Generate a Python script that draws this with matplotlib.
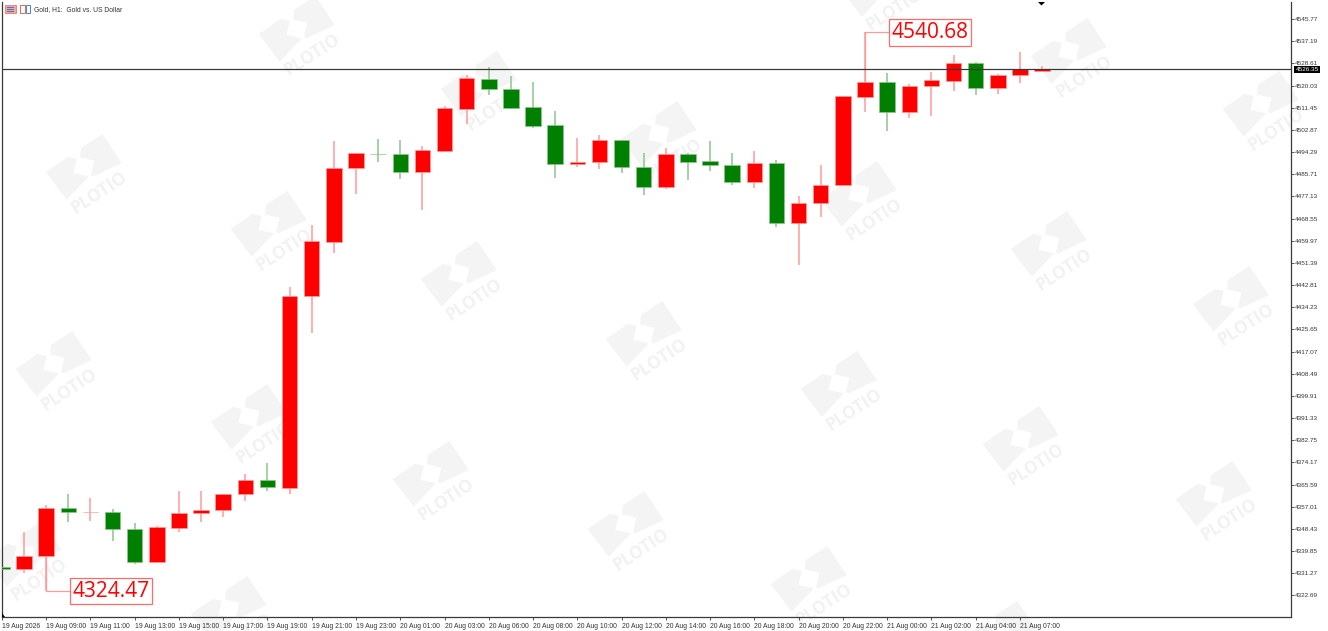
import matplotlib
matplotlib.use("Agg")
import matplotlib.pyplot as plt
from matplotlib.patches import Polygon, Rectangle
from matplotlib.transforms import Affine2D

# Gold H1 candles
opens = [4333.81, 4332.80, 4337.95, 4356.64, 4354.98, 4354.98, 4348.51, 4335.51, 4348.90, 4354.59,
         4355.63, 4361.83, 4367.36, 4364.38, 4438.57, 4459.47, 4487.99, 4493.64, 4493.41, 4486.56,
         4494.80, 4510.82, 4522.55, 4518.79, 4511.59, 4504.63, 4489.54, 4490.54, 4498.82, 4488.61,
         4480.87, 4493.64, 4490.70, 4489.38, 4482.57, 4490.16, 4466.70, 4474.44, 4481.52, 4515.70,
         4521.50, 4509.89, 4519.72, 4521.89, 4528.74, 4518.95, 4524.09, 4525.76]
highs = [4333.81, 4347.24, 4357.57, 4361.94, 4360.39, 4356.25, 4350.60, 4349.56, 4362.99, 4363.22,
         4361.94, 4369.57, 4373.94, 4442.05, 4466.04, 4498.55, 4493.90, 4499.33, 4499.06, 4496.62,
         4512.10, 4524.21, 4527.07, 4523.71, 4521.27, 4510.05, 4499.60, 4500.87, 4499.00, 4493.91,
         4495.73, 4493.80, 4498.55, 4493.91, 4494.68, 4491.20, 4477.15, 4489.15, 4516.10, 4540.68,
         4524.75, 4520.50, 4525.26, 4531.95, 4529.13, 4524.48, 4532.88, 4527.58]
lows = [4332.80, 4331.49, 4324.47, 4351.22, 4351.61, 4343.87, 4334.97, 4335.40, 4347.35, 4351.11,
        4353.16, 4359.35, 4363.10, 4362.06, 4424.25, 4455.21, 4478.04, 4490.31, 4483.96, 4471.85,
        4494.41, 4505.13, 4516.35, 4511.05, 4503.70, 4484.12, 4488.49, 4487.83, 4486.05, 4477.65,
        4479.86, 4483.34, 4486.83, 4481.52, 4480.48, 4465.15, 4450.45, 4469.14, 4481.40, 4509.89,
        4502.54, 4507.45, 4508.34, 4518.02, 4516.47, 4516.74, 4520.88, 4525.70]
closes = [4332.80, 4338.06, 4356.64, 4354.86, 4355.10, 4348.40, 4335.51, 4349.05, 4354.71, 4355.75,
          4361.94, 4367.36, 4364.53, 4438.57, 4459.74, 4488.10, 4493.79, 4493.55, 4486.56, 4494.95,
          4511.32, 4522.93, 4518.68, 4511.44, 4504.47, 4489.54, 4490.43, 4498.82, 4488.37, 4480.87,
          4493.64, 4490.54, 4489.15, 4482.57, 4489.92, 4466.70, 4474.68, 4481.41, 4515.97, 4521.50,
          4509.89, 4519.95, 4522.16, 4528.74, 4518.95, 4524.21, 4526.30, 4526.35]

time_labels = ["19 Aug 2026", "19 Aug 09:00", "19 Aug 11:00", "19 Aug 13:00", "19 Aug 15:00",
               "19 Aug 17:00", "19 Aug 19:00", "19 Aug 21:00", "19 Aug 23:00", "20 Aug 01:00",
               "20 Aug 03:00", "20 Aug 06:00", "20 Aug 08:00", "20 Aug 10:00", "20 Aug 12:00",
               "20 Aug 14:00", "20 Aug 16:00", "20 Aug 18:00", "20 Aug 20:00", "20 Aug 22:00",
               "21 Aug 00:00", "21 Aug 02:00", "21 Aug 04:00", "21 Aug 07:00"]
price_ticks = [4545.77, 4537.19, 4528.61, 4520.03, 4511.45, 4502.87, 4494.29, 4485.71, 4477.13,
               4468.55, 4459.97, 4451.39, 4442.81, 4434.23, 4425.65, 4417.07, 4408.49, 4399.91,
               4391.33, 4382.75, 4374.17, 4365.59, 4357.01, 4348.43, 4339.85, 4331.27, 4322.69]
last_price = 4526.35
low_mark = 4324.47
high_mark = 4540.68
title = "Gold, H1:  Gold vs. US Dollar"

# watermark anchors, in image pixels
mark_spots = [(85, 178), (270, 235), (460, 285), (645, 345), (840, 395), (1022, 450), (1215, 505),
              (55, 375), (250, 428), (432, 485), (627, 535), (810, 590), (1000, 645),
              (298, 40), (480, 95), (660, 145), (860, 205), (1050, 255), (1232, 310),
              (880, -5), (1070, 62), (1262, 115), (230, 620), (25, 565)]

W, H = 1328, 631
UP = "#ff0000"
DOWN = "#008000"
UP_SOFT = "#ff9a9a"
DOWN_SOFT = "#8fc48f"
LABEL_FONT = "Liberation Sans"

fig = plt.figure(figsize=(W / 100, H / 100), dpi=100, facecolor="white")
left, right, top, bottom = 1.5, 1291, 2, 617
ax = fig.add_axes([left / W, 1 - bottom / H, (right - left) / W, (bottom - top) / H])
ax.set_xlim(-0.018, 58.25)
ax.set_ylim(4553.12 - 0.387 * bottom, 4553.12 - 0.387 * top)
ax.patch.set_alpha(0)

# image pixel coordinates, for the bits stuck on top of the chart
pix = Affine2D().scale(1, -1).translate(0, H)

# watermark sits behind everything
for cx, cy in mark_spots:
    shape_a = [(42, 152), (108, 107), (135, 113), (125, 155), (172, 165), (105, 235)]
    shape_b = [(148, 80), (212, 38), (270, 125), (185, 165), (178, 162), (188, 118), (145, 108)]
    for shape in (shape_a, shape_b):
        pts = [(cx + (a - 160) / 3, cy + (b - 170) / 3) for a, b in shape]
        fig.add_artist(Polygon(pts, closed=True, transform=pix, fc="#f4f4f4", ec="none", zorder=-5))
    fig.text(cx + 14, cy + 15, "PLOTIO", transform=pix, fontsize=12.5, fontweight="bold",
             family="Open Sans", color="#f2f2f2", rotation=33, rotation_mode="anchor",
             ha="center", va="center", zorder=-5)

# candles
for i in range(len(opens)):
    rising = closes[i] >= opens[i]
    soft = UP_SOFT if rising else DOWN_SOFT
    solid = UP if rising else DOWN
    ax.vlines(i, lows[i], highs[i], color=soft, lw=1.1, zorder=2)
    ax.bar(i, abs(closes[i] - opens[i]), bottom=min(opens[i], closes[i]), width=0.70,
           color=solid, edgecolor=soft, linewidth=0.5, zorder=3)

# last price line and tag
ax.axhline(last_price, color="#3a3a3a", lw=0.9, zorder=4)
ax.text(1.0035, last_price, "4526.35", transform=ax.get_yaxis_transform(), fontsize=4.6,
        family=LABEL_FONT, color="white", ha="left", va="center", clip_on=False, zorder=6,
        bbox=dict(boxstyle="square,pad=0.18", fc="black", ec="none"))

# high / low callouts
ax.plot([2, 2, 3.05], [closes[1] + 0.0, low_mark, low_mark], color=UP_SOFT, lw=0.9, zorder=2)
ax.plot([39, 39, 40.05], [closes[39], high_mark, high_mark], color=UP_SOFT, lw=0.9, zorder=2)
for x0, y0, x1, y1, txt in [(69.5, 577.5, 152, 603.5, f"{low_mark:.2f}"),
                            (888.5, 18.5, 970.5, 45.5, f"{high_mark:.2f}")]:
    fig.add_artist(Rectangle((x0, y0), x1 - x0, y1 - y0, transform=pix, fc="white",
                             ec="#ff6a6a", lw=0.9, zorder=5))
    fig.text((x0 + x1) / 2 + 0.5, (y0 + y1) / 2 + 1, txt, transform=pix, fontsize=15,
             family="Open Sans", color=UP, ha="center", va="center", zorder=6)

# axes
for side in ("top",):
    ax.spines[side].set_visible(False)
for side in ("left", "right", "bottom"):
    ax.spines[side].set_color("#3a3a3a")
    ax.spines[side].set_linewidth(0.9)
ax.yaxis.tick_right()
ax.set_yticks(price_ticks)
ax.set_yticklabels([f"{v:.2f}" for v in price_ticks], fontsize=4.6, family=LABEL_FONT, color="#333333")
ax.tick_params(axis="y", length=2.2, width=0.6, color="#3a3a3a", pad=0.6)
ax.set_xticks(range(0, len(opens), 2))
ax.set_xticklabels(time_labels, fontsize=4.9, family=LABEL_FONT, color="#333333", ha="left")
ax.tick_params(axis="x", length=2.5, width=0.6, color="#3a3a3a", pad=1.5)

# header: title and the two little icons
fig.text(34 / W, 1 - 9.5 / H, title, fontsize=4.9, family=LABEL_FONT, color="#333333", va="center")
fig.add_artist(Rectangle((5, 5), 10.5, 8, transform=pix, fc="#f4a6a0", ec="#e06a60", lw=0.5))
for row_y in (7, 9, 11):
    fig.add_artist(Rectangle((7, row_y), 7, 0.8, transform=pix, fc="#4a78c0", ec="none"))
fig.add_artist(Rectangle((19.5, 5), 5, 8, transform=pix, fc="white", ec="#e06a60", lw=0.7))
fig.add_artist(Rectangle((25.5, 5), 4, 8, transform=pix, fc="white", ec="#4a88c8", lw=0.7))

# small black markers
fig.add_artist(Polygon([(1038, 2), (1045, 2), (1041.5, 5.5)], transform=pix, fc="black", ec="none"))
fig.add_artist(Polygon([(1.5, 613), (1.5, 617), (5, 617)], transform=pix, fc="black", ec="none"))

fig.savefig("out.png", dpi=100)
